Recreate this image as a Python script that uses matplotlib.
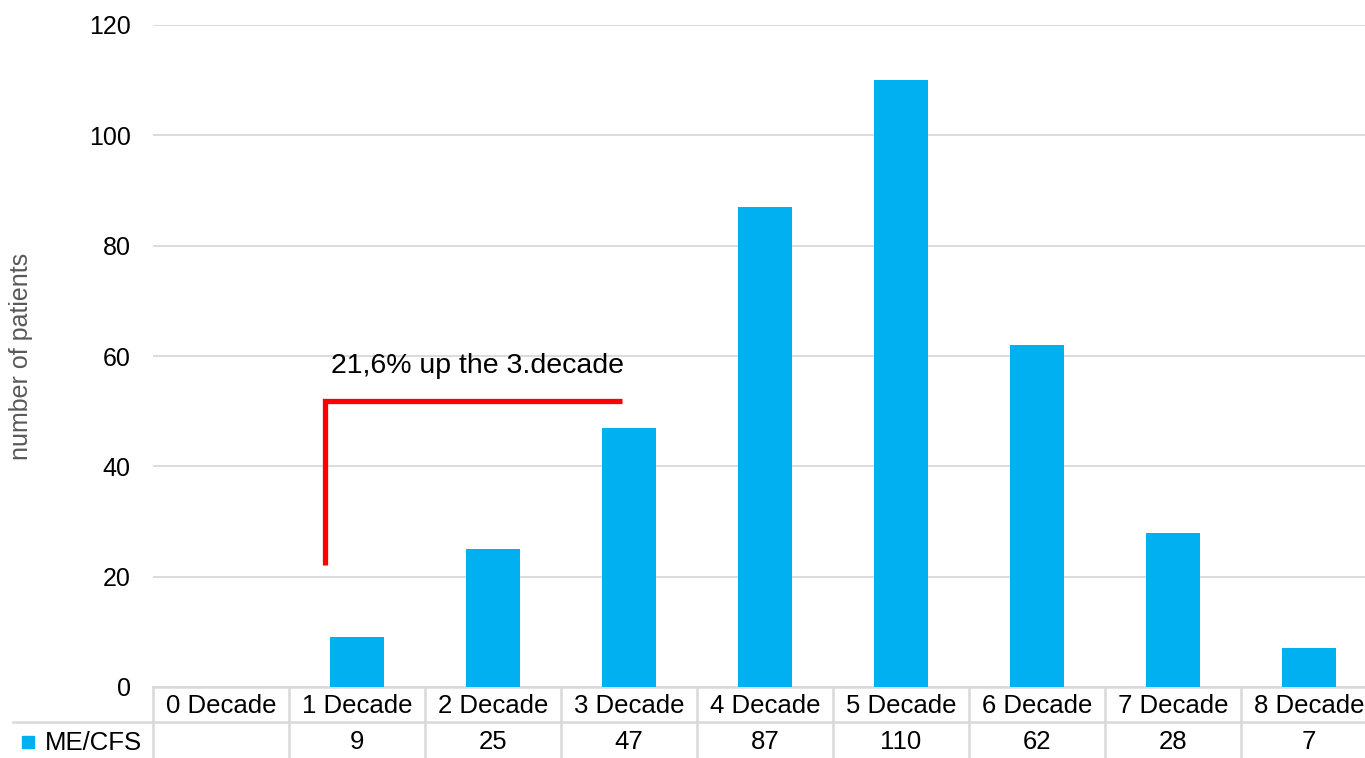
import numpy as np
import matplotlib
matplotlib.use("Agg")
import matplotlib.pyplot as plt
import matplotlib.transforms as mtransforms
from matplotlib.patches import Rectangle

# ---------------------------------------------------
# Data
# ---------------------------------------------------

decades = ["0 Decade", "1 Decade", "2 Decade", "3 Decade", "4 Decade",
           "5 Decade", "6 Decade", "7 Decade", "8 Decade"]
patients = [np.nan, 9, 25, 47, 87, 110, 62, 28, 7]
series_name = "ME/CFS"
note = "21,6% up the 3.decade"

bar_color = "#00b0f0"
grid_color = "#d9d9d9"

plt.rcParams["font.family"] = ["Liberation Sans", "DejaVu Sans"]

fig = plt.figure(figsize=(13.65, 7.58), dpi=100)
ax = fig.add_axes([153 / 1365, 71 / 758, 1224 / 1365, 662 / 758])

x = np.arange(len(decades))
ax.bar(x, patients, width=0.4, color=bar_color, zorder=3)

ax.set_xlim(-0.5, len(decades) - 0.5)
ax.set_ylim(0, 120)
ax.set_yticks(range(0, 121, 20))
ax.tick_params(axis="y", length=0, pad=16, labelsize=18)
ax.set_xticks([])
ax.grid(axis="y", color=grid_color, lw=1.3, zorder=0)
for s in ax.spines.values():
    s.set_visible(False)

ax.set_ylabel("number of patients", fontsize=18, color="#595959")
ax.yaxis.set_label_coords(-153 / 1224 + 33 / 1224, 0.5)

# ---------------------------------------------------
# Data table under the axis
# ---------------------------------------------------

trans = mtransforms.blended_transform_factory(ax.transData, ax.transAxes)
row_h = 35 / 662
line_kw = dict(color=grid_color, lw=1.8, clip_on=False, zorder=1)

ax.plot([-0.5, len(decades) - 0.5], [0, 0], transform=trans, **line_kw)
ax.plot([-0.5 - 140 / 136, len(decades) - 0.5], [-row_h, -row_h],
        transform=trans, **line_kw)
for b in np.arange(len(decades) + 1) - 0.5:
    ax.plot([b, b], [0, -2.2 * row_h], transform=trans, **line_kw)

for i, (name, val) in enumerate(zip(decades, patients)):
    ax.text(i, -row_h / 2 - 0.003, name, transform=trans, ha="center",
            va="center", fontsize=18.5)
    label = "" if np.isnan(val) else f"{val:g}"
    ax.text(i, -1.5 * row_h - 0.004, label, transform=trans, ha="center",
            va="center", fontsize=18.5)

# legend key and series name
fig.patches.append(Rectangle((22 / 1365, (758 - 748) / 758), 12 / 1365,
                             12 / 758, transform=fig.transFigure,
                             color=bar_color))
fig.text(45 / 1365, (758 - 743) / 758, series_name, fontsize=18.5,
         ha="left", va="center")

# ---------------------------------------------------
# Bracket annotation
# ---------------------------------------------------

ax.plot([0.765, 0.765, 2.95], [22.1, 51.8, 51.8], color="red", lw=3.8,
        solid_joinstyle="miter", solid_capstyle="butt", zorder=4)
ax.text(0.81, 58.2, note, fontsize=20.5, ha="left", va="center", zorder=4)

fig.savefig("out.png", dpi=100)
plt.close(fig)
